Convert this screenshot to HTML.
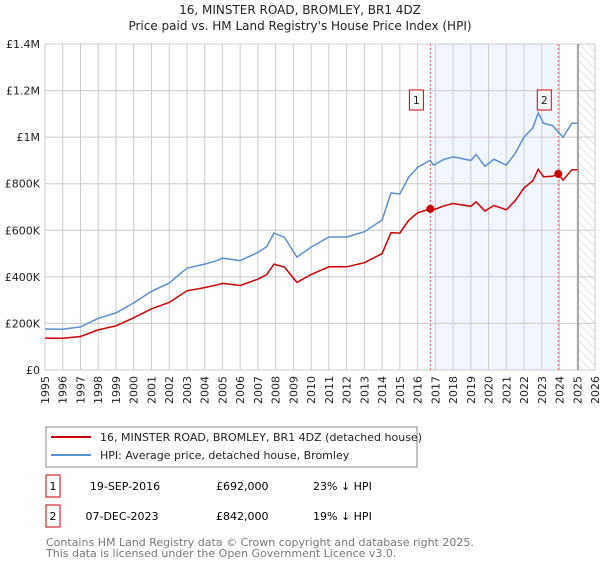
<!DOCTYPE html>
<html><head><meta charset="utf-8"><style>
body{margin:0;background:#fff;font-family:"Liberation Sans","DejaVu Sans",sans-serif;}
svg text{font-family:"DejaVu Sans","Liberation Sans",sans-serif;}
</style></head><body>
<svg id="chart" width="600" height="560" viewBox="0 0 600 560">
<defs><pattern id="hatch" width="6" height="6" patternUnits="userSpaceOnUse" patternTransform="rotate(-45)"><line x1="0" y1="0" x2="0" y2="6" stroke="#ccc" stroke-width="1"/></pattern></defs>
<text x="300" y="14" text-anchor="middle" font-size="12" fill="#222">16, MINSTER ROAD, BROMLEY, BR1 4DZ</text>
<text x="300" y="30" text-anchor="middle" font-size="12" fill="#222">Price paid vs. HM Land Registry's House Price Index (HPI)</text>
<g id="grid"></g><g id="marks"></g><g id="axes"></g>
<rect x="46" y="427" width="371" height="40" fill="#fff" stroke="#888"/>
<line x1="51" y1="437" x2="91" y2="437" stroke="#cc0000" stroke-width="2"/>
<text x="100" y="441" font-size="11" fill="#222">16, MINSTER ROAD, BROMLEY, BR1 4DZ (detached house)</text>
<line x1="51" y1="455" x2="91" y2="455" stroke="#5b8fd0" stroke-width="2"/>
<text x="100" y="459" font-size="11" fill="#222">HPI: Average price, detached house, Bromley</text>
<g>
<rect x="46" y="475" width="14" height="22" fill="#fff" stroke="#cc0000"/><text x="53" y="490" text-anchor="middle" font-size="11">1</text>
<text x="125" y="490" text-anchor="middle" font-size="11">19-SEP-2016</text><text x="216" y="490" font-size="11">£692,000</text><text x="313" y="490" font-size="11">23% ↓ HPI</text></g>
<g>
<rect x="46" y="505" width="14" height="22" fill="#fff" stroke="#cc0000"/><text x="53" y="520" text-anchor="middle" font-size="11">2</text>
<text x="122" y="520" text-anchor="middle" font-size="11">07-DEC-2023</text><text x="216" y="520" font-size="11">£842,000</text><text x="313" y="520" font-size="11">19% ↓ HPI</text></g>
<text x="46" y="546" font-size="11" fill="#777">Contains HM Land Registry data © Crown copyright and database right 2025.</text>
<text x="46" y="557" font-size="11" fill="#777">This data is licensed under the Open Government Licence v3.0.</text>
</svg>
<script>
const hpiYears=[1995,1996,1997,1998,1999,2000,2001,2002,2003,2004,2004.7,2005,2006,2007,2007.5,2007.9,2008.5,2009.2,2010,2011,2012,2013,2014,2014.5,2015,2015.5,2016,2016.7,2016.9,2017.5,2018,2019,2019.3,2019.8,2020.3,2021,2021.5,2022,2022.5,2022.8,2023.1,2023.6,2024.2,2024.7,2025];
const hpiValues=[176,175,185,222,245,288,338,373,437,455,470,480,470,505,530,588,570,485,528,571,571,594,644,760,756,828,870,900,880,905,915,900,925,875,905,880,930,1000,1040,1104,1060,1050,1000,1060,1060];
const priceYears=[1995,1996,1997,1998,1999,2000,2001,2002,2003,2004,2004.7,2005,2006,2007,2007.5,2007.9,2008.5,2009.2,2010,2011,2012,2013,2014,2014.5,2015,2015.5,2016,2016.72,2016.9,2017.5,2018,2019,2019.3,2019.8,2020.3,2021,2021.5,2022,2022.5,2022.8,2023.1,2023.6,2023.93,2024.2,2024.7,2025];
const priceValues=[137,136,144,172,190,224,263,290,340,354,366,372,363,390,410,455,442,376,410,443,443,461,500,590,588,643,675,692,688,705,715,703,722,683,707,688,727,782,813,862,830,832,842,815,860,860];
const sales=[{n:1,t:2016.72,v:692},{n:2,t:2023.93,v:842}];
const yTicks=[0,200,400,600,800,1000,1200,1400];
const yLabels=["£0","£200K","£400K","£600K","£800K","£1M","£1.2M","£1.4M"];
const xTicks=[1995,1996,1997,1998,1999,2000,2001,2002,2003,2004,2005,2006,2007,2008,2009,2010,2011,2012,2013,2014,2015,2016,2017,2018,2019,2020,2021,2022,2023,2024,2025,2026];
const X0=45,X1=595,Y0=370,Y1=44;
const xs=t=>X0+(t-1995)/31*(X1-X0);
const ys=v=>Y0-v/1400*(Y0-Y1);
const NS="http://www.w3.org/2000/svg";
function mk(tag,attrs,parent){const e=document.createElementNS(NS,tag);for(const k in attrs)e.setAttribute(k,attrs[k]);parent.appendChild(e);return e;}
const grid=document.getElementById('grid'),marks=document.getElementById('marks'),axes=document.getElementById('axes');
let r=mk('rect',{x:xs(sales[0].t),y:Y1,width:xs(sales[1].t)-xs(sales[0].t),height:Y0-Y1,fill:'#eef3fd',opacity:0.8},grid);


r=mk('rect',{x:xs(2025.05),y:Y1,width:X1-xs(2025.05),height:Y0-Y1,fill:'url(#hatch)'},grid);


xTicks.forEach(t=>{
 const l=mk('line',{x1:xs(t),x2:xs(t),y1:Y1,y2:Y0,stroke:'#ccc'},grid);
 
 
 const tx=mk('text',{x:0,y:0,'font-size':11,fill:'#222','text-anchor':'end',transform:`translate(${xs(t)+4},376) rotate(-90)`},axes);
 tx.textContent=t;
 
 
});
yTicks.forEach((v,i)=>{
 const l=mk('line',{x1:X0,x2:X1,y1:ys(v),y2:ys(v),stroke:'#ccc'},grid);
 
 
 const tx=mk('text',{x:40,y:ys(v)+4,'font-size':11,fill:'#222','text-anchor':'end'},axes);
 tx.textContent=yLabels[i];
 
 
});
const edge=mk('line',{x1:xs(2025.05),x2:xs(2025.05),y1:Y1,y2:Y0,stroke:'#999','stroke-width':1.5},grid);


sales.forEach(s=>{
 const l=mk('line',{x1:xs(s.t),x2:xs(s.t),y1:Y1,y2:Y0,stroke:'#e06060','stroke-dasharray':'2,2'},marks);
 
 
 const b=mk('rect',{x:xs(s.t)-21,y:90,width:14,height:20,fill:'#fff',stroke:'#cc0000'},marks);
 
 
 const tx=mk('text',{x:xs(s.t)-14,y:104,'font-size':11,'text-anchor':'middle',fill:'#222'},marks);
 tx.textContent=s.n;
 
 
});
function line(xsArr,vals,color,name){
 const d=vals.map((v,i)=>(i?'L':'M')+xs(xsArr[i]).toFixed(1)+','+ys(v).toFixed(1)).join('');
 const p=mk('path',{d:d,fill:'none',stroke:color,'stroke-width':1.5},marks);
 
 
}
line(hpiYears,hpiValues,'#5b8fd0','hpi-line');
line(priceYears,priceValues,'#cc0000','price-paid-line');
sales.forEach(s=>{
 const c=mk('circle',{cx:xs(s.t),cy:ys(s.v),r:4,fill:'#cc0000'},marks);
 
 
});
</script>
</body></html>
